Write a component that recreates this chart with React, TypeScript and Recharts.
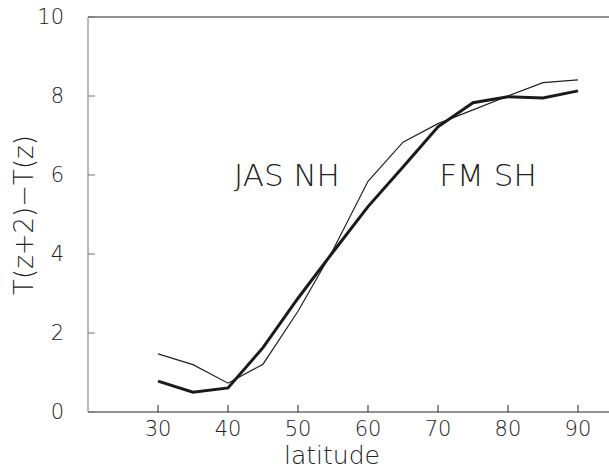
import React from "react";
import { LineChart, Line, XAxis, YAxis } from "recharts";

// latitude (deg) and T(z+2)-T(z)
const latitudes = [30, 35, 40, 45, 50, 55, 60, 65, 70, 75, 80, 85, 90];
const jasNH = [1.47, 1.2, 0.73, 1.21, 2.55, 4.1, 5.84, 6.83, 7.3, 7.65, 8.0, 8.34, 8.41];
const fmSH = [0.78, 0.5, 0.61, 1.63, 2.88, 4.05, 5.2, 6.2, 7.22, 7.83, 7.98, 7.95, 8.13];
const xTicks = [30, 40, 50, 60, 70, 80, 90];
const yTicks = [0, 2, 4, 6, 8, 10];

const data = latitudes.map((lat, i) => ({ lat, jas: jasNH[i], fm: fmSH[i] }));

const font = "'DejaVu Sans', sans-serif";
const ink = "#222";

export default function App() {
  return (
    <div style={{ position: "absolute", left: 0, top: 0, width: 609, height: 469, overflow: "hidden", background: "#fff" }}>
      <LineChart
        width={609}
        height={469}
        data={data}
        margin={{ top: 7, right: 0, bottom: 27, left: 58 }}
      >
        <XAxis
          dataKey="lat"
          type="number"
          domain={[20, 94.43]}
          ticks={xTicks}
          allowDataOverflow
          height={30}
          tickSize={-7}
          tickMargin={16}
          stroke={ink}
          tick={{ fill: ink, fontSize: 21, fontFamily: font, fontWeight: 200 }}
        />
        <XAxis
          xAxisId="top"
          dataKey="lat"
          type="number"
          orientation="top"
          domain={[20, 94.43]}
          ticks={xTicks}
          allowDataOverflow
          height={10}
          tickSize={-7}
          tick={false}
          stroke={ink}
        />
        <YAxis
          type="number"
          domain={[0, 10]}
          ticks={yTicks}
          width={30}
          tickSize={-7}
          tickMargin={31}
          stroke="#777"
          tick={{ fill: ink, fontSize: 21, fontFamily: font, fontWeight: 200 }}
        />
        <Line
          type="linear"
          dataKey="jas"
          stroke={ink}
          strokeWidth={1.2}
          dot={false}
          isAnimationActive={false}
        />
        <Line
          type="linear"
          dataKey="fm"
          stroke="#1a1a1a"
          strokeWidth={3}
          dot={false}
          isAnimationActive={false}
        />
        <text x={287} y={186} textAnchor="middle" fontSize={31} fontFamily={font} fontWeight={200} fill={ink}>
          JAS NH
        </text>
        <text x={488} y={186} textAnchor="middle" fontSize={31} fontFamily={font} fontWeight={200} fill={ink}>
          FM SH
        </text>
        <text x={332} y={464} textAnchor="middle" fontSize={25} fontFamily={font} fontWeight={200} fill={ink}>
          latitude
        </text>
        <text
          x={33}
          y={215}
          textAnchor="middle"
          fontSize={26}
          fontFamily={font}
          fontWeight={200}
          fill={ink}
          transform="rotate(-90, 33, 215)"
        >
          T(z+2)−T(z)
        </text>
      </LineChart>
    </div>
  );
}
